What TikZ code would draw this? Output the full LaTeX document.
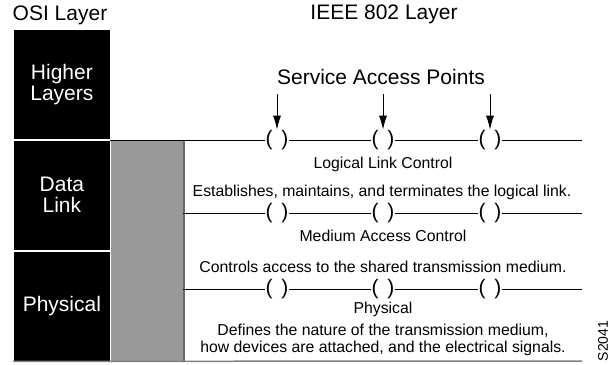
\documentclass[tikz,border=0pt]{standalone}
\usepackage{fontspec}
\setmainfont{Liberation Sans}
\usetikzlibrary{positioning,arrows.meta}
\tikzset{layer box/.style={rectangle,fill=black,draw=white,line width=0.8pt,text=white,minimum width=97pt,minimum height=110pt,inner sep=0pt,align=center,font=\fontsize{21}{21}\selectfont},
sap node/.style={inner sep=0pt,font=\fontsize{21}{21}\selectfont},
sap arrow/.style={-{Latex[length=14pt,width=8pt]},line width=1pt},
big text/.style={font=\fontsize{21}{23}\selectfont},
small text/.style={font=\fontsize{15.8}{16.5}\selectfont,align=center},
}

\begin{document}
\begin{tikzpicture}[x=1pt,y=-1pt,line width=1pt]
	\useasboundingbox (0,0) rectangle (610,364);
	\node[big text] (osi) at (60,15) {OSI Layer};
	\node[big text] (ieee) at (384,14) {IEEE 802 Layer};
	
	% OSI column
	\node[layer box,anchor=north west] (higher) at (13,29) {Higher\\Layers};
	\node[layer box] (datalink) [below = 0pt of higher] {Data\\Link};
	\node[layer box] (physical) [below = 0pt of datalink] {Physical};
	\node[fill=black!40,minimum width=73pt,minimum height=221pt,inner sep=0pt,anchor=north west] (ieee col) at (110,140) {};
	\draw[black!60,line width=1.5pt] (ieee col.north east) -- (ieee col.south east);
	\coordinate (base end) at (582,361);
	\draw[black!50,line width=1.5pt] (physical.south west) -- (base end);
	
	% service access points
	\node[sap node] (llc1) at (277,140) {(\hspace{9pt})};
	\node[sap node] (llc2) at (383,140) {(\hspace{9pt})};
	\node[sap node] (llc3) at (490,140) {(\hspace{9pt})};
	\coordinate (llc end) at (582,140);
	\node[sap node] (mac1) at (277,213) {(\hspace{9pt})};
	\node[sap node] (mac2) at (383,213) {(\hspace{9pt})};
	\node[sap node] (mac3) at (490,213) {(\hspace{9pt})};
	\coordinate (mac start) at (183,213);
	\coordinate (mac end) at (582,213);
	\node[sap node] (phy1) at (277,289) {(\hspace{9pt})};
	\node[sap node] (phy2) at (383,289) {(\hspace{9pt})};
	\node[sap node] (phy3) at (490,289) {(\hspace{9pt})};
	\coordinate (phy start) at (183,289);
	\coordinate (phy end) at (582,289);
	
	\draw (ieee col.north west) -- (llc1) -- (llc2) -- (llc3) -- (llc end);
	\draw (mac start) -- (mac1) -- (mac2) -- (mac3) -- (mac end);
	\draw (phy start) -- (phy1) -- (phy2) -- (phy3) -- (phy end);
	
	\node[big text] (sap title) at (381,77) {Service Access Points};
	\coordinate (sap top1) at (277,94);
	\coordinate (sap top2) at (383,94);
	\coordinate (sap top3) at (490,94);
	\draw[sap arrow] (sap top1) -- (llc1);
	\draw[sap arrow] (sap top2) -- (llc2);
	\draw[sap arrow] (sap top3) -- (llc3);
	
	% sublayer texts
	\node[small text] (llc label) at (383,164) {Logical Link Control};
	\node[small text] (llc desc) at (382,192) {Establishes, maintains, and terminates the logical link.};
	\node[small text] (mac label) at (383,236) {Medium Access Control};
	\node[small text] (mac desc) at (383,267) {Controls access to the shared transmission medium.};
	\node[small text] (phy label) at (383,309) {Physical};
	\node[small text] (phy desc) at (383,340) {Defines the nature of the transmission medium,\\how devices are attached, and the electrical signals.};
	
	\node[font=\fontsize{14}{14}\selectfont,rotate=90,inner sep=0pt] (fig id) at (603,341) {S2041};
\end{tikzpicture}
\end{document}
